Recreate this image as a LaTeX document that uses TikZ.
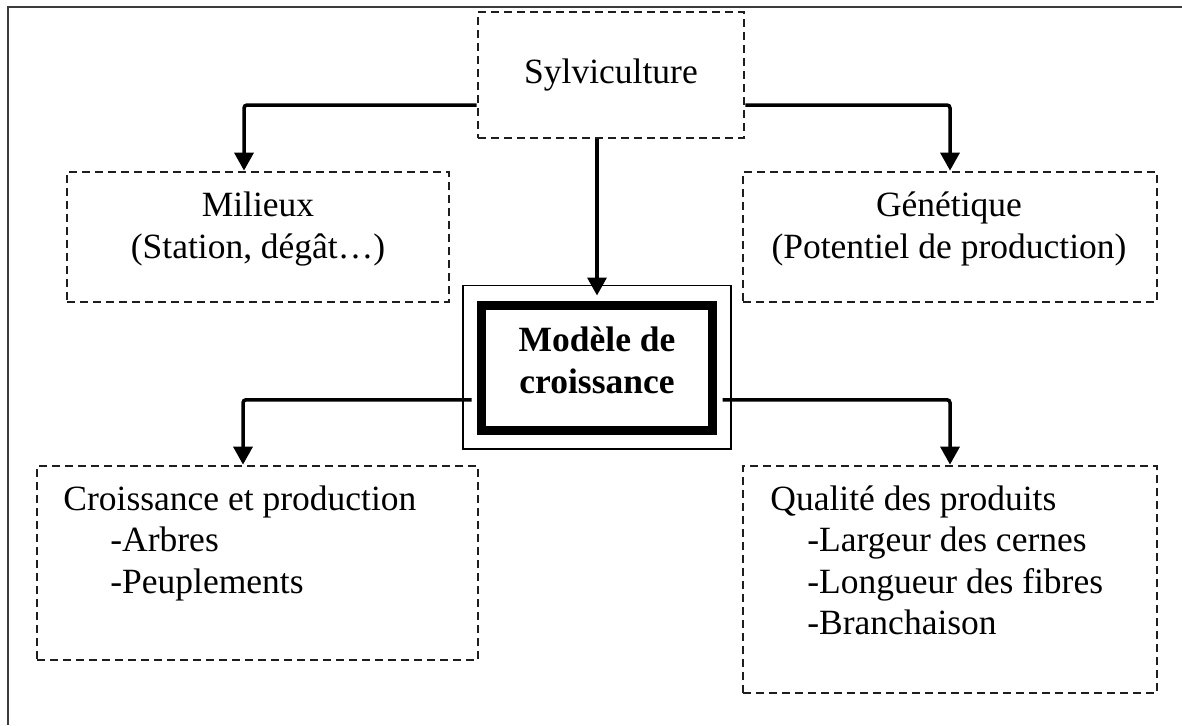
\documentclass[tikz,border=0pt]{standalone}
\usepackage{fontspec}
\setmainfont{Liberation Serif}
\usepackage{tikz}
\usetikzlibrary{positioning, arrows.meta, calc}
\definecolor{frameline}{RGB}{60,60,60}
\definecolor{dashline}{RGB}{30,30,30}
\newcommand{\mainsize}{\fontsize{17.75pt}{20.75pt}\selectfont}

\begin{document}
\begin{tikzpicture}[x=0.5pt, y=-0.5pt,
  dbox/.style={
    rectangle, draw=dashline, line width=1.4pt, dash pattern=on 4pt off 2.5pt,
    inner sep=0pt, align=center, font=\mainsize
  },
  txt/.style={inner sep=0pt, font=\mainsize},
  conn/.style={-{Triangle[length=9pt,width=9.5pt]}, line width=1.75pt, rounded corners=1.5pt},
  modelbox/.style={
    rectangle, draw, line width=4.5pt, minimum width=115.5pt, minimum height=62.25pt,
    outer sep=5pt, align=center, font=\mainsize\bfseries
  }
]
\useasboundingbox (0,0) rectangle (1182,725);

% page frame
\draw[frameline, line width=0.7pt] (8,725) -- (8,7) -- (1182,7);

\node[dbox, minimum width=133pt, minimum height=63pt] (sylv) at (611,75) {Sylviculture};

% base anchor sits on the last line
\node[dbox, minimum width=191pt, minimum height=65pt] (milieux) at (258,237) {};
\node[txt, align=center, anchor=base] (milieuxtxt) at (258,258) {Milieux\\(Station, dégât…)};

\node[dbox, minimum width=207pt, minimum height=65pt] (genet) at (950,237) {};
\node[txt, align=center, anchor=base] (genettxt) at (949,258) {Génétique\\(Potentiel de production)};

\node[modelbox] (modele) at (597,367.75) {};
\node[txt, align=center, anchor=base, font=\mainsize\bfseries] (modeletxt) at (597,393) {Modèle de\\croissance};
\draw[line width=0.6pt] ([xshift=-4.25pt,yshift=5pt]modele.north west) rectangle ([xshift=4.25pt,yshift=-4.5pt]modele.south east);

\node[dbox, minimum width=220.5pt, minimum height=97pt] (croiss) at (257.5,563) {};
\node[txt, align=left, anchor=base west] (croisstxt) at (63,593) {
  Croissance et production\\
  \hspace*{23.5pt}-Arbres\\
  \hspace*{23.5pt}-Peuplements
};

\node[dbox, minimum width=207pt, minimum height=113.5pt] (qualite) at (950,579.5) {};
\node[txt, align=left, anchor=base west] (qualitetxt) at (770,634.5) {
  Qualité des produits\\
  \hspace*{18.5pt}-Largeur des cernes\\
  \hspace*{18.5pt}-Longueur des fibres\\
  \hspace*{18.5pt}-Branchaison
};

\draw[conn] ([yshift=-15pt]sylv.west) -| ([xshift=-7pt]milieux.north);
\draw[conn] ([yshift=-15pt]sylv.east) -| (genet.north);
\draw[conn] ([xshift=-7pt]sylv.south) -- (modele.north);
\draw[conn] ([yshift=-16pt]modele.west) -| ([xshift=-7.25pt]croiss.north);
\draw[conn] ([yshift=-16pt]modele.east) -| (qualite.north);

\end{tikzpicture}
\end{document}
